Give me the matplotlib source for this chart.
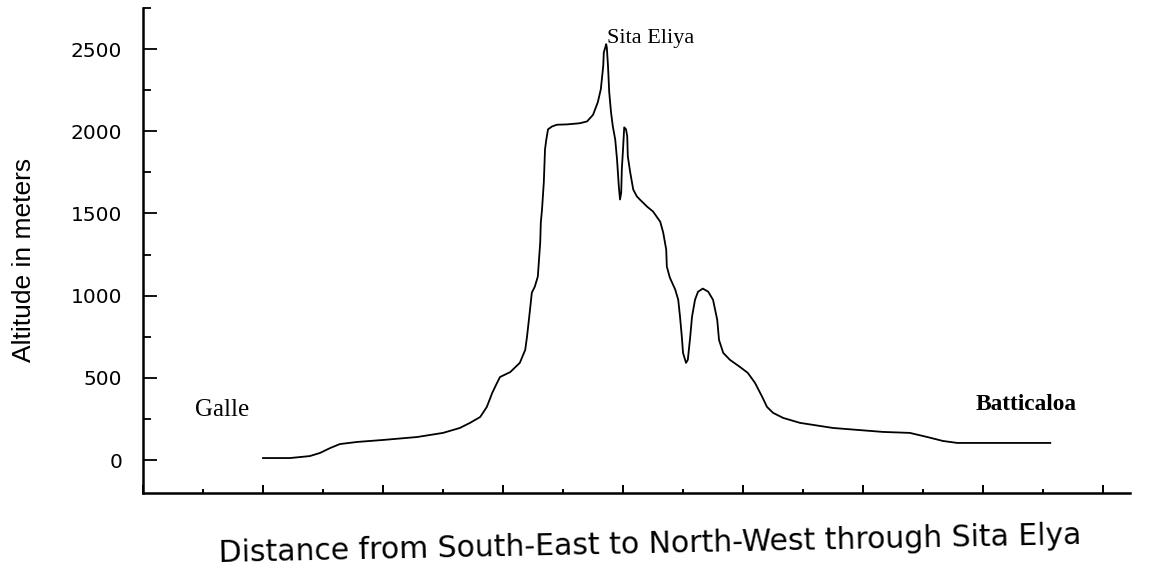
import matplotlib
matplotlib.use('Agg')
import matplotlib.pyplot as plt
from matplotlib.ticker import MultipleLocator, NullFormatter

# profile: distance in tick units, altitude in meters
dist = [2.00, 2.45, 2.78, 2.95, 3.12, 3.28, 3.57, 4.00, 4.57, 5.00, 5.28, 5.45,
        5.62, 5.73, 5.82, 5.90, 5.95, 6.12, 6.28, 6.37, 6.40, 6.45, 6.48, 6.53,
        6.58, 6.60, 6.62, 6.63, 6.65, 6.68, 6.70, 6.72, 6.75, 6.82, 6.90, 7.07,
        7.28, 7.40, 7.50, 7.58, 7.63, 7.67, 7.68, 7.72, 7.73, 7.75, 7.77, 7.80,
        7.83, 7.87, 7.90, 7.93, 7.95, 7.97, 7.98, 8.00, 8.02, 8.05, 8.07, 8.08,
        8.12, 8.17, 8.23, 8.28, 8.40, 8.50, 8.62, 8.67, 8.72, 8.73, 8.78, 8.87,
        8.92, 8.95, 8.98, 9.00, 9.05, 9.08, 9.12, 9.15, 9.20, 9.25, 9.33, 9.42,
        9.50, 9.57, 9.60, 9.67, 9.78, 9.95, 10.08, 10.20, 10.32, 10.40, 10.50,
        10.67, 10.95, 11.50, 12.33, 12.78, 13.07, 13.33, 13.57, 15.12]
alt = [12, 12, 24, 43, 73, 97, 110, 122, 140, 165, 195, 226,
       262, 323, 408, 469, 505, 535, 591, 670, 750, 915, 1018, 1055,
       1116, 1220, 1323, 1445, 1524, 1690, 1890, 1946, 2012, 2030, 2040, 2042,
       2049, 2060, 2100, 2177, 2256, 2396, 2480, 2530, 2510, 2396, 2238, 2116,
       2030, 1950, 1829, 1665, 1585, 1628, 1768, 1890, 2024, 2012, 1970, 1847,
       1750, 1646, 1604, 1585, 1542, 1512, 1450, 1383, 1280, 1177, 1110, 1037,
       975, 872, 750, 652, 591, 610, 750, 872, 975, 1024, 1043, 1024,
       975, 853, 730, 652, 610, 566, 530, 469, 384, 323, 287,
       256, 226, 195, 171, 165, 140, 116, 104, 104]

yticks = [0, 500, 1000, 1500, 2000, 2500]

fig = plt.figure(figsize=(11.55, 5.73), dpi=100)
ax = fig.add_axes([0.1238, 0.1398, 0.8546, 0.8462])

ax.plot(dist, alt, color='black', lw=1.3)

ax.set_xlim(0, 16.45)
ax.set_ylim(-200, 2750)

ax.spines['top'].set_visible(False)
ax.spines['right'].set_visible(False)
ax.spines['left'].set_linewidth(1.8)
ax.spines['bottom'].set_linewidth(1.8)

ax.xaxis.set_major_locator(MultipleLocator(2))
ax.xaxis.set_minor_locator(MultipleLocator(1))
ax.xaxis.set_major_formatter(NullFormatter())
ax.set_yticks(yticks)
ax.yaxis.set_minor_locator(MultipleLocator(250))

ax.tick_params(axis='x', which='major', direction='in', length=6, width=1.4)
ax.tick_params(axis='x', which='minor', direction='in', length=3, width=1.4)
ax.tick_params(axis='y', which='major', direction='in', length=10, width=1.3,
               pad=15, labelsize=14.5)
ax.tick_params(axis='y', which='minor', direction='in', length=5.5, width=1.3)
for lab in ax.get_yticklabels():
    lab.set_family('DejaVu Sans')

fig.text(0.021, 0.546, 'Altitude in meters', rotation=90, ha='center', va='center',
         family='Liberation Sans', fontsize=19)
fig.text(0.563, 0.049, 'Distance from South-East to North-West through Sita Elya',
         rotation=1.2, ha='center', va='center', family='DejaVu Sans', fontsize=21.5)

ax.text(0.87, 268, 'Galle', family='Liberation Serif', fontsize=18, ha='left', va='baseline')
ax.text(7.73, 2540, 'Sita Eliya', family='Liberation Serif', fontsize=16, ha='left', va='baseline')
ax.text(13.87, 304, 'Batticaloa', family='Liberation Serif', fontsize=16.8,
        fontweight='bold', ha='left', va='baseline')

fig.savefig('out.png', dpi=100)
